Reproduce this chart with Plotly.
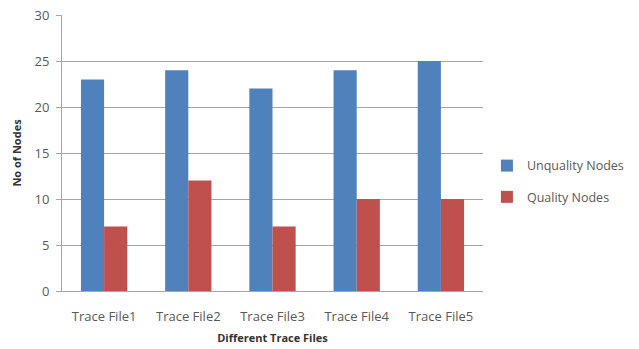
import plotly.graph_objects as go

# Node counts per trace file
trace_files = ["Trace File1", "Trace File2", "Trace File3", "Trace File4", "Trace File5"]
unquality_nodes = [23, 24, 22, 24, 25]
quality_nodes = [7, 12, 7, 10, 10]

tick_vals = [0, 5, 10, 15, 20, 25, 30]

font_family = "Open Sans, Liberation Sans, sans-serif"
tick_color = "#595959"

fig = go.Figure()
fig.add_trace(go.Bar(
    x=trace_files, y=unquality_nodes, name="Unquality Nodes",
    marker=dict(color="#4F81BD", line=dict(width=0)), legendgroup="a",
))
fig.add_trace(go.Bar(
    x=trace_files, y=quality_nodes, name="Quality Nodes",
    marker=dict(color="#C0504D", line=dict(width=0)), legendgroup="b",
))

fig.update_layout(
    width=639, height=349,
    margin=dict(l=62, r=156, t=15, b=58, autoexpand=False),
    paper_bgcolor="white", plot_bgcolor="white",
    barmode="group", bargap=0.45, bargroupgap=0,
    font=dict(family=font_family, size=12, color=tick_color),
    legend=dict(
        xref="container", yref="container",
        x=0.762, y=0.48, xanchor="left", yanchor="middle",
        font=dict(size=12.5, color=tick_color),
        tracegroupgap=12, itemwidth=30,
        bgcolor="rgba(0,0,0,0)",
    ),
    showlegend=True,
)

fig.update_yaxes(
    range=[0, 30], tickvals=tick_vals,
    showgrid=True, gridcolor="#A6A6A6", gridwidth=1,
    showline=True, linecolor="#A6A6A6", linewidth=1,
    ticks="outside", ticklen=5, tickcolor="#A6A6A6",
    tickfont=dict(size=13, color=tick_color), ticklabelstandoff=4,
    zeroline=False,
    title=dict(text="<b>No of Nodes</b>", font=dict(size=11, color="#333333"), standoff=10),
)
fig.update_xaxes(
    showline=True, linecolor="#A6A6A6", linewidth=1,
    ticks="", tickfont=dict(size=13, color=tick_color), ticklabelstandoff=13,
    title=dict(text="<b>Different Trace Files</b>", font=dict(size=11, color="#333333"), standoff=10),
)

fig.write_html("out.html")
